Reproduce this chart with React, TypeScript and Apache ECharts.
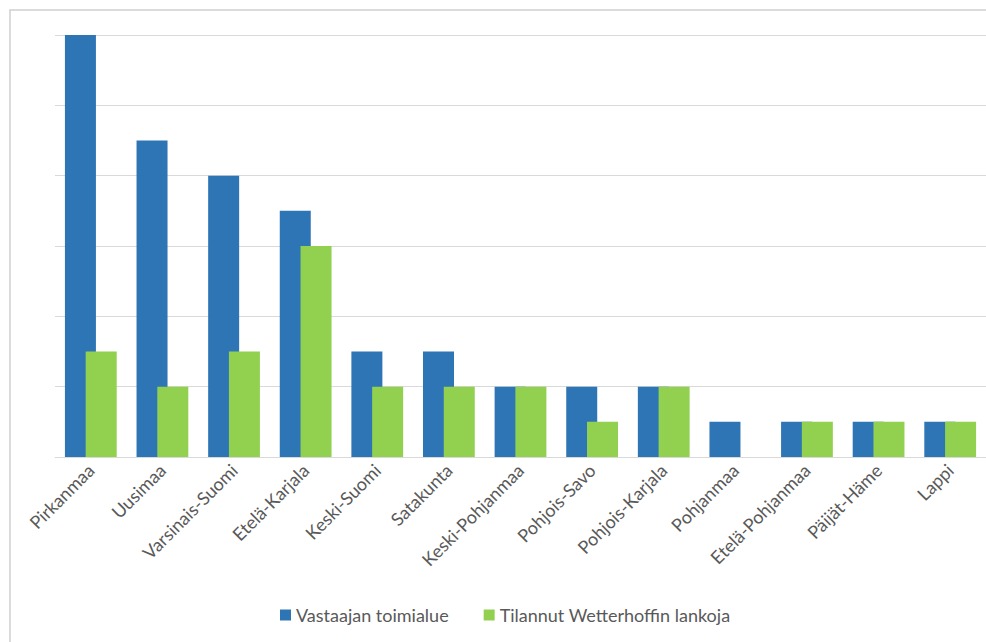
import React, { useEffect, useRef } from "react";
import * as echarts from "echarts";

const categories = [
  "Pirkanmaa", "Uusimaa", "Varsinais-Suomi", "Etelä-Karjala", "Keski-Suomi", "Satakunta",
  "Keski-Pohjanmaa", "Pohjois-Savo", "Pohjois-Karjala", "Pohjanmaa", "Etelä-Pohjanmaa",
  "Päijät-Häme", "Lappi",
];
const seriesNames = ["Vastaajan toimialue", "Tilannut Wetterhoffin lankoja"];
const toimialue = [12, 9, 8, 7, 3, 3, 2, 2, 2, 1, 1, 1, 1];
const tilannut = [3, 2, 3, 6, 2, 2, 2, 1, 2, 0, 1, 1, 1];

export default function App() {
  const ref = useRef<HTMLDivElement>(null);
  useEffect(() => {
    if (!ref.current) return;
    const chart = echarts.init(ref.current, null, { renderer: "svg" });
    const font = "Lato, Open Sans, sans-serif";
    chart.setOption({
      animation: false,
      backgroundColor: "#ffffff",
      graphic: [
        {
          type: "rect",
          shape: { x: 10, y: 10, width: 1000, height: 700 },
          style: { fill: "none", stroke: "#d0d0d0", lineWidth: 1.5 },
          silent: true,
        },
      ],
      grid: { left: 55, width: 937, top: 35, bottom: 185, containLabel: false },
      legend: {
        data: seriesNames,
        left: 275,
        top: 601,
        itemWidth: 11,
        itemHeight: 11,
        itemGap: 35,
        icon: "rect",
        textStyle: { color: "#595959", fontSize: 18, fontFamily: font },
      },
      xAxis: {
        type: "category",
        data: categories,
        axisLine: { lineStyle: { color: "#d9d9d9", width: 1 } },
        axisTick: { show: false },
        axisLabel: {
          rotate: 45,
          interval: 0,
          color: "#595959",
          fontSize: 18,
          fontFamily: font,
          margin: 10,
        },
      },
      yAxis: {
        type: "value",
        min: 0,
        max: 12,
        interval: 2,
        axisLabel: { show: false },
        axisLine: { show: false },
        axisTick: { show: false },
        splitLine: { lineStyle: { color: "#d9d9d9", width: 1 } },
      },
      series: [
        {
          name: seriesNames[0],
          type: "bar",
          data: toimialue,
          barWidth: 31,
          barGap: "-33%",
          itemStyle: { color: "#2E75B6" },
        },
        {
          name: seriesNames[1],
          type: "bar",
          data: tilannut,
          barWidth: 31,
          itemStyle: { color: "#92D050" },
        },
      ],
    });
    return () => chart.dispose();
  }, []);
  return (
    <div
      ref={ref}
      style={{ position: "fixed", left: 0, top: 0, width: 986, height: 642 }}
    />
  );
}
